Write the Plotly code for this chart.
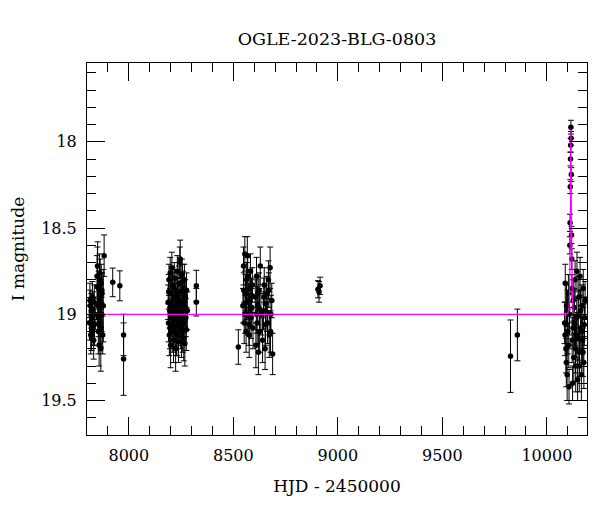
import plotly.graph_objects as go

# ---------------- data ----------------
s1_t = [7812, 7815, 7818, 7820, 7823, 7826, 7829, 7832, 7835, 7838,
        7848, 7850, 7852, 7854, 7856, 7858, 7860, 7862, 7864, 7866,
        7868, 7870, 7872, 7875, 7878, 7882,
        7814, 7822, 7828, 7836, 7851, 7855, 7859, 7863, 7867, 7871]
s1_m = [19.05, 18.95, 19.12, 18.98, 19.02, 18.90, 19.08, 19.15, 18.93, 19.00,
        18.78, 18.72, 18.95, 19.10, 18.85, 19.18, 18.76, 19.05, 18.90, 19.20,
        18.82, 19.00, 18.88, 19.12, 18.95, 18.66,
        18.92, 19.10, 18.97, 19.06, 18.84, 19.02, 18.93, 18.80, 19.08, 18.86]
s1_e = [0.10, 0.09, 0.11, 0.10, 0.12, 0.09, 0.10, 0.11, 0.10, 0.09,
        0.12, 0.11, 0.10, 0.13, 0.10, 0.12, 0.11, 0.12, 0.10, 0.13,
        0.11, 0.10, 0.12, 0.11, 0.21, 0.12,
        0.10, 0.11, 0.10, 0.12, 0.26, 0.11, 0.10, 0.12, 0.11, 0.10]

gap1_t = [7923, 7957, 7975, 7975]
gap1_m = [18.815, 18.835, 19.12, 19.26]
gap1_e = [0.083, 0.087, 0.12, 0.21]

s2_t = [8188, 8190, 8192, 8194, 8196, 8198, 8200, 8202, 8204, 8206,
        8208, 8210, 8212, 8214, 8216, 8218, 8220, 8222, 8224, 8226,
        8228, 8230, 8232, 8234, 8236, 8238, 8240, 8242, 8244, 8246,
        8248, 8250, 8252, 8254, 8256, 8258, 8260, 8262, 8264, 8266,
        8268, 8270, 8273, 8276, 8280,
        8191, 8197, 8203, 8209, 8215, 8221, 8227, 8233, 8239, 8245,
        8251, 8257, 8263, 8269, 8275]
s2_m = [18.93, 19.05, 18.80, 19.12, 18.98, 18.76, 19.18, 18.88, 19.02, 18.73,
        19.10, 18.95, 18.84, 19.15, 19.00, 18.79, 19.07, 18.90, 19.20, 18.86,
        18.97, 19.12, 18.75, 19.04, 18.92, 19.16, 18.82, 19.00, 18.70, 18.68,
        19.08, 18.87, 19.13, 18.77, 18.99, 19.10, 18.85, 19.05, 18.93, 18.80,
        19.17, 18.90, 19.02, 18.86, 18.98,
        18.87, 19.08, 18.95, 18.83, 19.03, 18.97, 19.11, 18.89, 19.06, 18.94,
        19.01, 18.81, 19.14, 18.96, 19.09]
s2_e = [0.10, 0.11, 0.09, 0.12, 0.10, 0.09, 0.13, 0.10, 0.11, 0.09,
        0.12, 0.10, 0.10, 0.13, 0.11, 0.09, 0.12, 0.10, 0.13, 0.10,
        0.11, 0.12, 0.09, 0.11, 0.10, 0.12, 0.10, 0.11, 0.09, 0.11,
        0.12, 0.10, 0.12, 0.09, 0.11, 0.12, 0.10, 0.11, 0.10, 0.09,
        0.13, 0.10, 0.11, 0.10, 0.11,
        0.10, 0.12, 0.11, 0.10, 0.11, 0.12, 0.13, 0.10, 0.12, 0.11,
        0.11, 0.10, 0.13, 0.11, 0.12]

mid_t = [8323, 8323]
mid_m = [18.835, 18.93]
mid_e = [0.09, 0.08]

s3_t = [8524,
        8546, 8549, 8552, 8555, 8558, 8561, 8564, 8567, 8570, 8573,
        8576, 8579, 8582, 8585, 8588, 8591, 8594,
        8605, 8608, 8611, 8614, 8617, 8620, 8623, 8626, 8629, 8632,
        8640, 8644, 8648, 8652, 8656, 8660, 8664, 8668, 8672, 8676,
        8680, 8684, 8688,
        8550, 8557, 8563, 8569, 8575, 8581, 8587, 8610, 8618, 8625,
        8646, 8654, 8662, 8670, 8678]
s3_m = [19.19,
        18.95, 18.72, 19.05, 18.65, 18.88, 19.10, 18.80, 18.66, 19.00, 18.92,
        19.12, 18.85, 18.75, 19.02, 18.96, 18.83, 19.08,
        18.90, 19.18, 18.78, 19.05, 18.95, 19.22, 18.86, 19.10, 18.72, 19.00,
        19.15, 18.98, 18.83, 19.20, 18.94, 18.88, 19.05, 18.80, 19.12, 18.73,
        19.00, 18.92, 19.23,
        18.86, 19.00, 18.93, 18.78, 19.06, 18.97, 18.89, 19.00, 18.88, 18.97,
        18.90, 19.06, 18.99, 18.86, 19.10]
s3_e = [0.10,
        0.10, 0.11, 0.12, 0.10, 0.11, 0.12, 0.10, 0.11, 0.12, 0.10,
        0.13, 0.11, 0.10, 0.12, 0.11, 0.10, 0.12,
        0.10, 0.13, 0.11, 0.12, 0.11, 0.13, 0.10, 0.12, 0.11, 0.12,
        0.13, 0.11, 0.10, 0.12, 0.11, 0.10, 0.12, 0.11, 0.13, 0.12,
        0.11, 0.10, 0.12,
        0.10, 0.11, 0.10, 0.11, 0.12, 0.11, 0.10, 0.11, 0.10, 0.12,
        0.11, 0.12, 0.11, 0.10, 0.12]

s4_t = [8905, 8910, 8915]
s4_m = [18.855, 18.87, 18.835]
s4_e = [0.05, 0.06, 0.05]

gap2_t = [9826, 9859]
gap2_m = [19.243, 19.12]
gap2_e = [0.21, 0.15]

s5_t = [10085, 10088, 10091, 10094, 10097, 10100, 10103, 10106, 10108, 10110,
        10111, 10112, 10113, 10114, 10115, 10116, 10117, 10118, 10119, 10120,
        10121, 10123, 10126, 10129, 10132, 10135, 10138, 10141, 10144, 10147,
        10150, 10153, 10156, 10159, 10162, 10165, 10168, 10171, 10174, 10177,
        10180, 10183,
        10087, 10093, 10099, 10105, 10125, 10131, 10137, 10143, 10149, 10155,
        10161, 10167, 10173, 10179]
s5_m = [19.05, 18.82, 19.20, 18.95, 19.35, 19.10, 18.88, 19.42, 19.00, 18.60,
        18.47, 18.26, 18.10, 18.02, 17.915, 17.98, 18.19, 18.54, 18.68, 18.85,
        19.15, 19.40, 18.92, 19.25, 19.05, 18.80, 19.30, 19.12, 18.75, 19.38,
        19.00, 18.90, 19.22, 18.78, 19.08, 19.35, 18.95, 19.15, 18.85, 19.28,
        19.02, 18.92,
        19.12, 19.28, 18.98, 19.18, 19.08, 18.96, 19.20, 19.02, 19.14, 19.30,
        18.98, 19.10, 19.22, 19.06]
s5_e = [0.12, 0.11, 0.14, 0.12, 0.15, 0.13, 0.11, 0.10, 0.12, 0.05,
        0.05, 0.04, 0.04, 0.04, 0.04, 0.04, 0.04, 0.05, 0.06, 0.08,
        0.13, 0.10, 0.12, 0.14, 0.13, 0.11, 0.15, 0.13, 0.11, 0.12,
        0.13, 0.12, 0.14, 0.11, 0.13, 0.15, 0.12, 0.13, 0.11, 0.15,
        0.12, 0.11,
        0.12, 0.14, 0.12, 0.13, 0.12, 0.11, 0.14, 0.12, 0.13, 0.15,
        0.12, 0.13, 0.14, 0.12]

model_t = [7800, 10090, 10100, 10105, 10108, 10110, 10112, 10113, 10114, 10115,
           10116, 10117, 10118, 10120, 10122, 10125, 10130, 10140, 10192]
model_m = [19.0, 19.0, 18.995, 18.97, 18.92, 18.80, 18.55, 18.35, 18.12, 17.93,
           18.12, 18.35, 18.55, 18.80, 18.92, 18.97, 18.995, 19.0, 19.0]

title_text = "OGLE-2023-BLG-0803"
x_title = "HJD - 2450000"
y_title = "I magnitude"
x_range = [7800, 10192]
y_range = [19.70, 17.543]

# ---------------- figure ----------------
obs_t = s1_t + gap1_t + s2_t + mid_t + s3_t + s4_t + gap2_t + s5_t
obs_m = s1_m + gap1_m + s2_m + mid_m + s3_m + s4_m + gap2_m + s5_m
obs_e = s1_e + gap1_e + s2_e + mid_e + s3_e + s4_e + gap2_e + s5_e

FONT = "DejaVu Serif"
W, H = 592, 504   # page adds an 8px body margin around the figure

fig = go.Figure()
fig.add_trace(go.Scatter(
    x=obs_t, y=obs_m, mode="markers",
    marker=dict(color="black", size=5.5),
    error_y=dict(type="data", array=obs_e, visible=True,
                 color="black", thickness=1, width=3),
    showlegend=False,
))
fig.add_trace(go.Scatter(
    x=model_t, y=model_m, mode="lines",
    line=dict(color="#ff00ff", width=1.2),
    showlegend=False,
))

axis_common = dict(
    showline=True, linecolor="black", linewidth=1, mirror="ticks",
    ticks="inside", ticklen=18, tickwidth=1, tickcolor="black",
    showgrid=False, zeroline=False, automargin=False,
    tickfont=dict(family=FONT, size=16, color="black"),
)

fig.update_xaxes(
    range=x_range, dtick=500, tick0=0, tickformat="d",
    minor=dict(ticks="inside", ticklen=9, dtick=100, tick0=0,
               tickcolor="black", tickwidth=1, showgrid=False),
    title=dict(text=x_title, font=dict(family=FONT, size=17, color="black"),
               standoff=15),
    ticklabelstandoff=6,
    **axis_common,
)
fig.update_yaxes(
    range=y_range, dtick=0.5, tick0=0,
    minor=dict(ticks="inside", ticklen=9, dtick=0.1, tick0=0,
               tickcolor="black", tickwidth=1, showgrid=False),
    title=dict(text=y_title, font=dict(family=FONT, size=17, color="black"),
               standoff=14),
    ticklabelstandoff=6,
    **axis_common,
)

fig.update_layout(
    width=W, height=H,
    margin=dict(l=79, r=13, t=55, b=77, autoexpand=False),
    paper_bgcolor="white", plot_bgcolor="white",
    title=dict(text=title_text, x=0.5, xref="paper", xanchor="center",
               y=1 - 31 / H, yanchor="middle",
               font=dict(family=FONT, size=17.5, color="black")),
    font=dict(family=FONT, color="black"),
)

fig.write_html("out.html")
